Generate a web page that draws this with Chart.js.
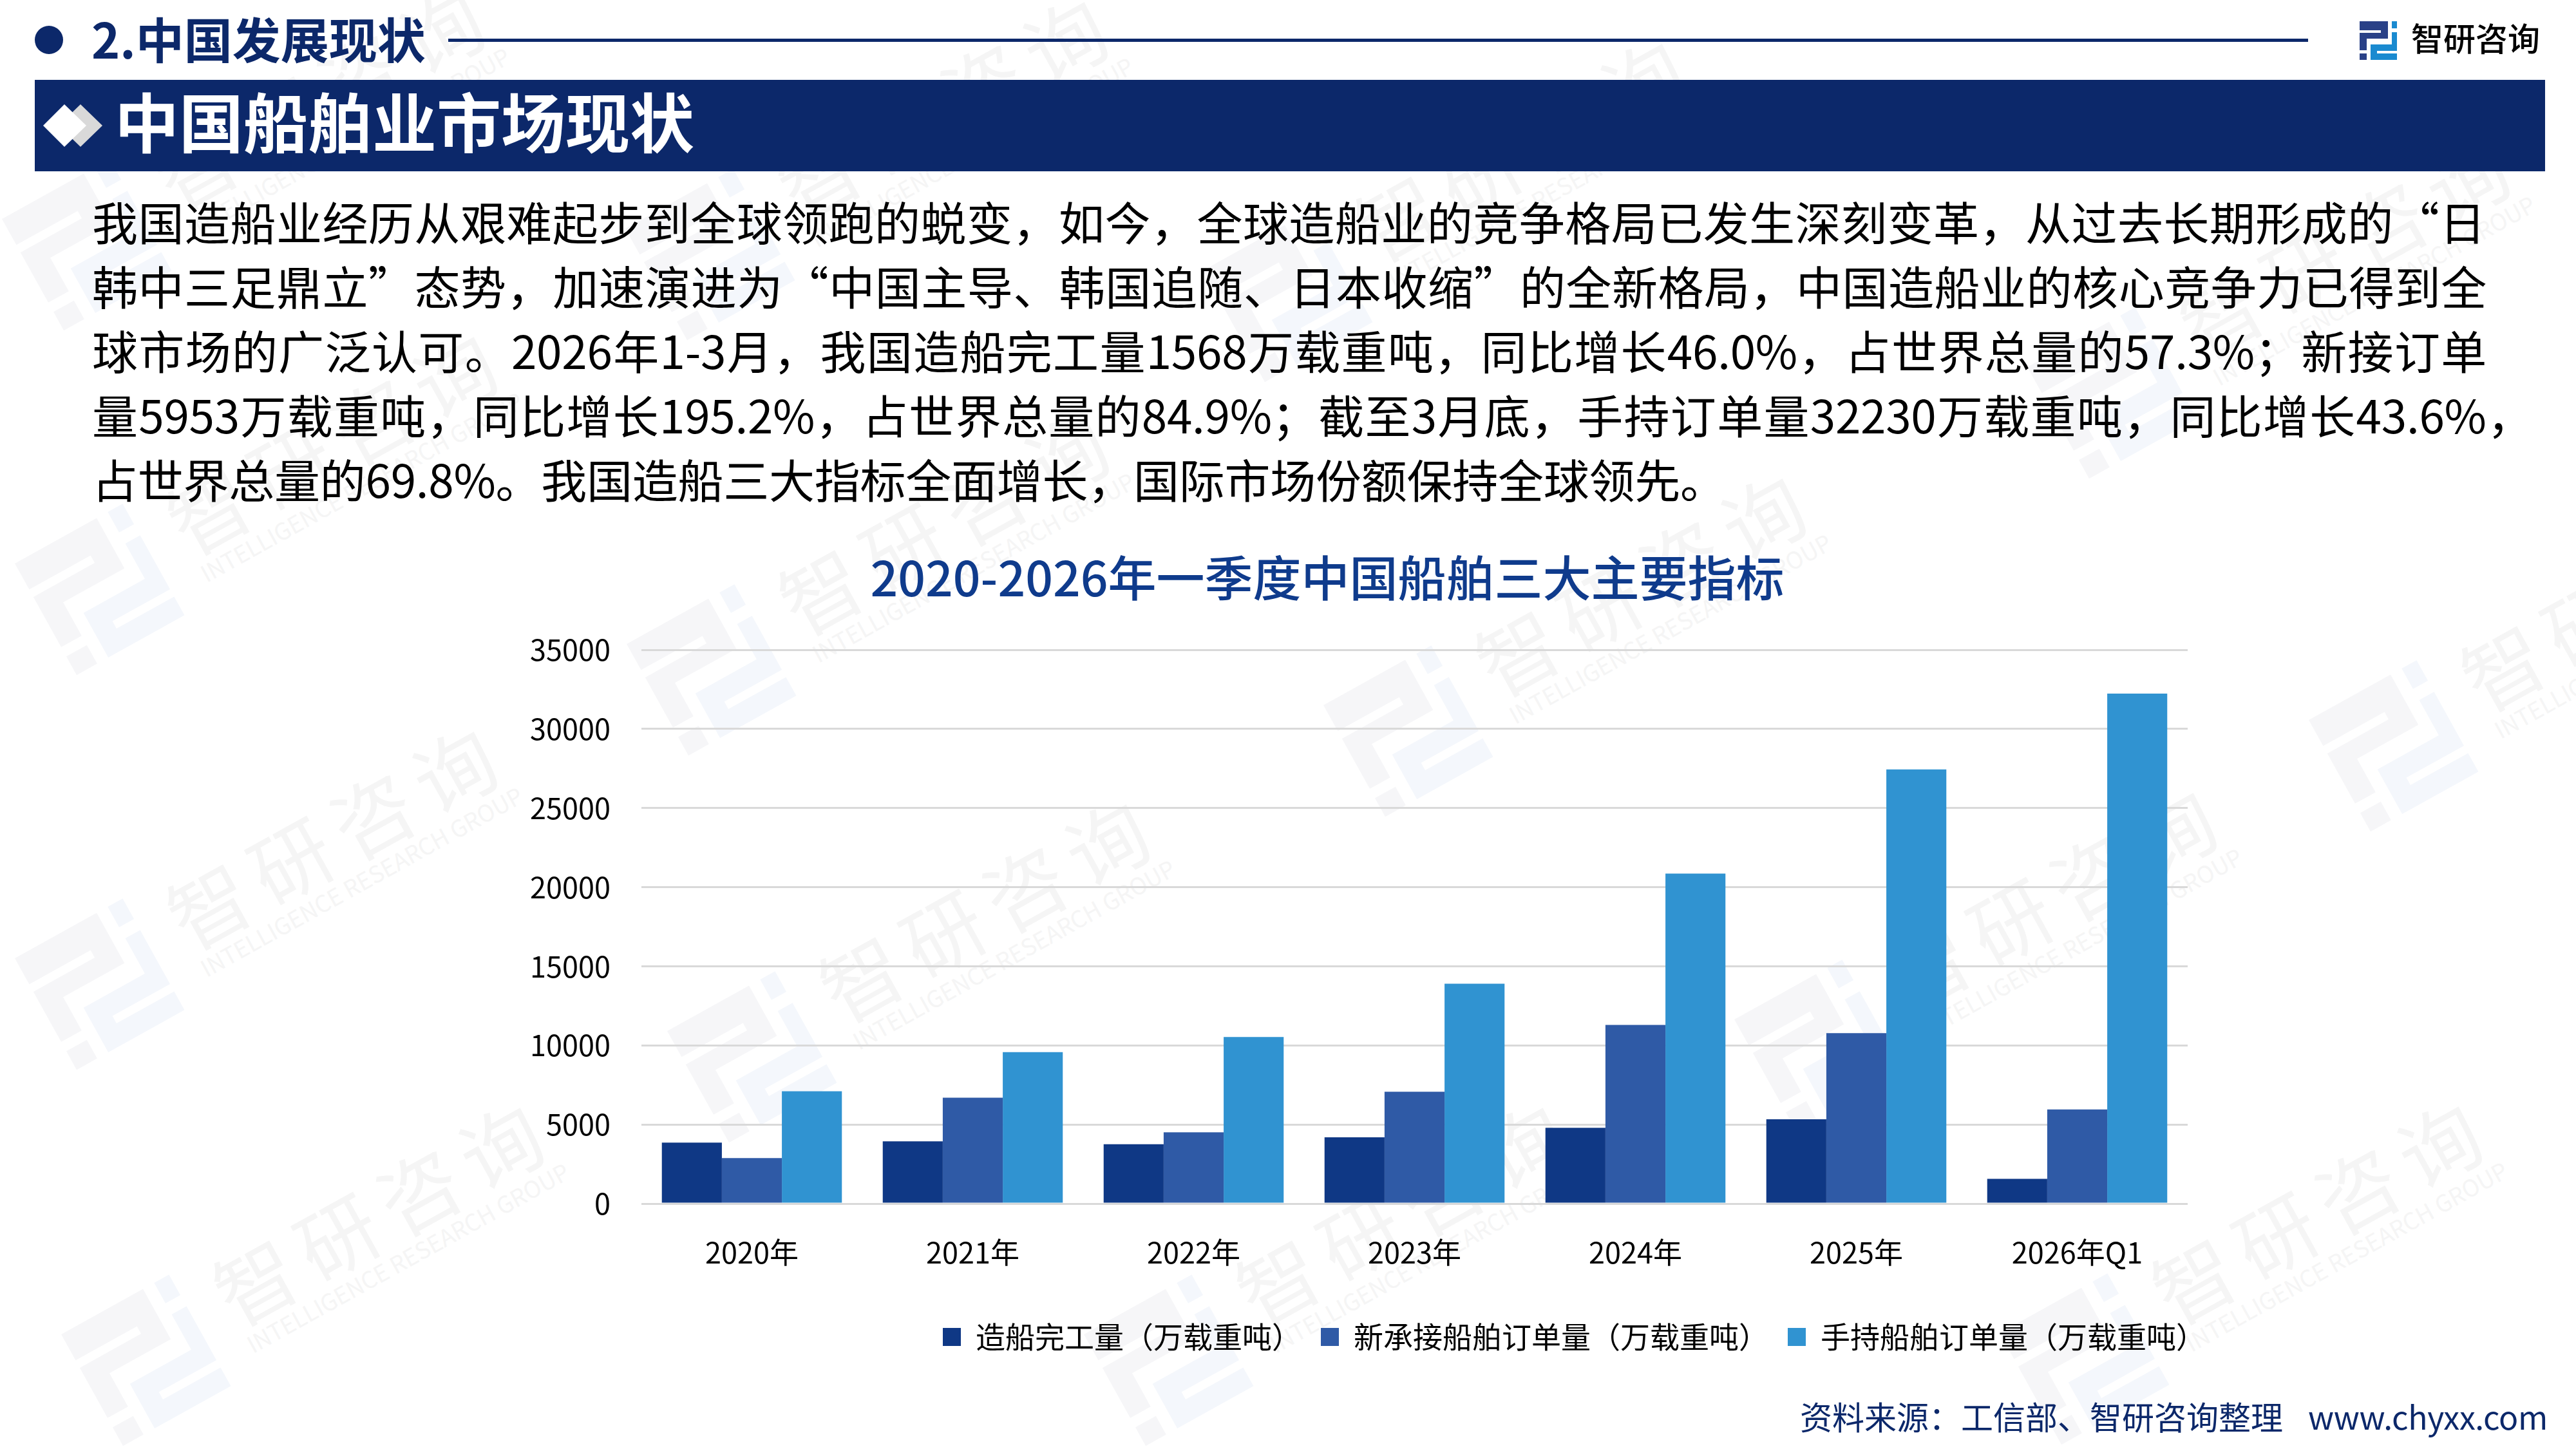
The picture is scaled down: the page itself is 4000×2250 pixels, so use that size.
<!DOCTYPE html>
<html lang="zh-CN">
<head>
<meta charset="utf-8">
<title>中国船舶业市场现状</title>
<script src="https://cdn.jsdelivr.net/npm/chart.js@4"></script>
<style>
    html, body { margin: 0; padding: 0; background: #fff; }
    body { width: 4000px; height: 2250px; position: relative; overflow: hidden; font-family: "Noto Sans CJK SC", sans-serif; color: #000; }
    .abs { position: absolute; white-space: nowrap; line-height: 1; }
    #marks, #chart { position: absolute; left: 0; top: 0; }
    .navy { color: #0c286a; }
    .line { position: absolute; left: 143px; font-size: 71px; line-height: 100px; height: 100px; white-space: nowrap; letter-spacing: -0.25px; }
    .just { text-align: justify; text-align-last: justify; white-space: normal; overflow: hidden; }
</style>
</head>
<body>
<svg id="marks" width="4000" height="2250" xmlns="http://www.w3.org/2000/svg"></svg>

<div class="abs" style="left:54px;top:40px;width:44px;height:44px;border-radius:50%;background:#0c286a"></div>
<div class="abs navy" style="left:142px;top:21px;font-size:75px;font-weight:700">2.中国发展现状</div>
<div class="abs" style="left:696px;top:60px;width:2888px;height:5px;background:#0c286a"></div>
<svg class="abs" style="left:3664px;top:33px" width="58" height="60" viewBox="0 0 58 60">
    <path fill="#2a4187" d="M0 0H44V27H11V45H0V18H33V14H0Z"/>
    <path fill="#2a4187" d="M0 50H11V60H0Z"/>
    <path fill="#1a8ad0" d="M50 0H58V11H50Z"/>
    <path fill="#1a8ad0" d="M17 60H58V50H27V46H58V17H50V36H17Z"/>
</svg>
<div class="abs" style="left:3744px;top:32px;font-size:50px;font-weight:500">智研咨询</div>

<div class="abs" style="left:54px;top:124px;width:3898px;height:142px;background:#0c286a"></div>
<svg class="abs" style="left:60px;top:155px" width="110" height="80" viewBox="0 0 110 80">
    <path fill="#d9d9d9" d="M65 7L99 40L65 73L31 40Z"/>
    <path fill="#ffffff" d="M40 7L74 40L40 73L7 40Z"/>
</svg>
<div class="abs" style="left:178px;top:136px;font-size:100px;font-weight:700;color:#fff">中国船舶业市场现状</div>

<div class="line just" style="top:292px;width:3716px">我国造船业经历从艰难起步到全球领跑的蜕变，如今，全球造船业的竞争格局已发生深刻变革，从过去长期形成的“日</div>
<div class="line just" style="top:392px;width:3718px">韩中三足鼎立”态势，加速演进为“中国主导、韩国追随、日本收缩”的全新格局，中国造船业的核心竞争力已得到全</div>
<div class="line just" style="top:492px;width:3718px">球市场的广泛认可。2026年1-3月，我国造船完工量1568万载重吨，同比增长46.0%，占世界总量的57.3%；新接订单</div>
<div class="line just" style="top:592px;width:3790px">量5953万载重吨，同比增长195.2%，占世界总量的84.9%；截至3月底，手持订单量32230万载重吨，同比增长43.6%，</div>
<div class="line" style="top:692px">占世界总量的69.8%。我国造船三大指标全面增长，国际市场份额保持全球领先。</div>

<canvas id="chart" width="4000" height="2250"></canvas>

<div class="abs navy" style="left:2795px;top:2173px;font-size:50px">资料来源：工信部、智研咨询整理</div>
<div class="abs navy" style="left:3584px;top:2173px;font-size:50px;letter-spacing:-0.3px">www.chyxx.com</div>

<script>
const categories = ['2020年', '2021年', '2022年', '2023年', '2024年', '2025年', '2026年Q1'];
const yTicks = [0, 5000, 10000, 15000, 20000, 25000, 30000, 35000];

const completed = [3860, 3940, 3750, 4190, 4790, 5330, 1568];
const newOrders = [2880, 6690, 4510, 7070, 11290, 10770, 5953];
const handOrders = [7100, 9570, 10530, 13900, 20860, 27440, 32230];

const seriesNames = ['造船完工量（万载重吨）', '新承接船舶订单量（万载重吨）', '手持船舶订单量（万载重吨）'];
const seriesColors = ['#0f3885', '#2f5aa6', '#3093d1'];

const chartTitle = '2020-2026年一季度中国船舶三大主要指标';
const fontFamily = '"Noto Sans CJK SC", sans-serif';

// faint company watermarks behind everything
const markCentres = [
    [135, 380], [1103, 395], [2000, 460], [3280, 610],
    [155, 915], [1105, 1040], [2187, 1135], [3717, 1158],
    [155, 1528], [1168, 1641], [2825, 1623],
    [227, 2112], [1815, 2112], [3237, 2110]
];

function drawWatermarks() {
    const svg = document.getElementById('marks');
    let html = '';
    markCentres.forEach(function (c) {
        html += '<g transform="translate(' + c[0] + ' ' + c[1] + ') rotate(-29)">'
            + '<g transform="translate(-96 -99) scale(3.3)">'
            + '<path fill="#f6f6f8" d="M0 0H44V27H11V45H0V18H33V14H0Z"/><path fill="#f6f6f8" d="M0 50H11V60H0Z"/>'
            + '<path fill="#f4f7fc" d="M50 0H58V11H50Z"/><path fill="#f4f7fc" d="M17 60H58V50H27V46H58V17H50V36H17Z"/>'
            + '</g>'
            + '<text x="145" y="25" font-size="125" letter-spacing="20" fill="#f5f5f5" font-family=\'' + fontFamily + '\'>智研咨询</text>'
            + '<text x="150" y="72" font-size="36" fill="#f5f5f5" font-family=\'' + fontFamily + '\'>INTELLIGENCE RESEARCH GROUP</text>'
            + '</g>';
    });
    svg.innerHTML = html;
}

// the legend sits right of the plot's edge in the reference
const nudgeLegend = {
    id: 'nudgeLegend',
    afterLayout: function (chart) { chart.legend.right += 58; }
};

function initChart() {
    const values = [completed, newOrders, handOrders];

    new Chart(document.getElementById('chart'), {
        type: 'bar',
        data: {
            labels: categories,
            datasets: seriesNames.map(function (name, i) {
                return {
                    label: name,
                    data: values[i],
                    backgroundColor: seriesColors[i],
                    borderWidth: 0,
                    barPercentage: 1,
                    categoryPercentage: 0.815
                };
            })
        },
        plugins: [nudgeLegend],
        options: {
            responsive: false,
            animation: false,
            layout: { padding: { left: 725, right: 603, top: 0, bottom: 141 } },
            scales: {
                x: {
                    grid: { display: false },
                    border: { display: false },
                    afterFit: function (scale) { scale.height = 154; },
                    ticks: {
                        color: '#000',
                        padding: 41,
                        maxRotation: 0,
                        autoSkip: false,
                        font: { family: fontFamily, size: 45 }
                    }
                },
                y: {
                    min: 0,
                    max: 35000,
                    border: { display: false },
                    grid: { color: '#d9d9d9', lineWidth: 3, drawTicks: false },
                    afterFit: function (scale) { scale.width = 271; },
                    afterBuildTicks: function (scale) {
                        scale.ticks = yTicks.map(function (v) { return { value: v }; });
                    },
                    ticks: {
                        color: '#000',
                        padding: 48,
                        font: { family: fontFamily, size: 45 },
                        callback: function (v) { return String(v); }
                    }
                }
            },
            plugins: {
                title: {
                    display: true,
                    text: chartTitle,
                    color: '#0f3b8c',
                    padding: { top: 852, bottom: 67 },
                    font: { family: fontFamily, size: 75, weight: '500' }
                },
                legend: {
                    position: 'bottom',
                    align: 'end',
                    labels: {
                        color: '#000',
                        boxWidth: 28,
                        boxHeight: 28,
                        padding: 30,
                        font: { family: fontFamily, size: 46 }
                    }
                },
                tooltip: { enabled: false }
            }
        }
    });
}

drawWatermarks();
initChart();
</script>
</body>
</html>
